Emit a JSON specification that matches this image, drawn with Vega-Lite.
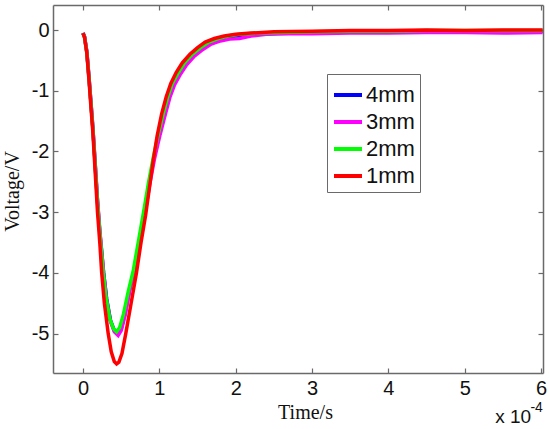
{
  "$schema": "https://vega.github.io/schema/vega-lite/v6.json",
  "width": 490,
  "height": 368,
  "autosize": {"type": "none"},
  "padding": {"left": 53, "top": 5, "right": 7, "bottom": 56},
  "background": "white",
  "config": {
    "view": {"stroke": null},
    "axis": {
      "domainColor": "#6a6a6a",
      "domainWidth": 1.5,
      "tickColor": "#6a6a6a",
      "tickWidth": 1.2,
      "tickSize": -5,
      "grid": false,
      "labelFont": "Liberation Sans",
      "labelFontSize": 20,
      "labelColor": "#111",
      "titleFont": "Liberation Serif",
      "titleFontSize": 20,
      "titleFontWeight": "normal",
      "titleColor": "#111"
    },
    "legend": {
      "orient": "none",
      "legendX": 274,
      "legendY": 69,
      "padding": 5,
      "strokeColor": "#6a6a6a",
      "fillColor": "white",
      "symbolType": "stroke",
      "symbolStrokeWidth": 4,
      "symbolSize": 784,
      "labelFont": "Liberation Sans",
      "labelFontSize": 22,
      "labelColor": "#111",
      "labelOffset": 2,
      "rowPadding": 0,
      "title": null
    }
  },
  "data": {
    "values": [
      {"series": "4mm", "t": 0, "v": -0.05},
      {"series": "4mm", "t": 0.02, "v": -0.11},
      {"series": "4mm", "t": 0.05, "v": -0.36},
      {"series": "4mm", "t": 0.08, "v": -0.81},
      {"series": "4mm", "t": 0.1, "v": -1.13},
      {"series": "4mm", "t": 0.13, "v": -1.63},
      {"series": "4mm", "t": 0.16, "v": -2.22},
      {"series": "4mm", "t": 0.19, "v": -2.82},
      {"series": "4mm", "t": 0.22, "v": -3.32},
      {"series": "4mm", "t": 0.27, "v": -4.0},
      {"series": "4mm", "t": 0.31, "v": -4.43},
      {"series": "4mm", "t": 0.36, "v": -4.78},
      {"series": "4mm", "t": 0.41, "v": -4.95},
      {"series": "4mm", "t": 0.46, "v": -5.0},
      {"series": "4mm", "t": 0.5, "v": -4.93},
      {"series": "4mm", "t": 0.55, "v": -4.68},
      {"series": "4mm", "t": 0.61, "v": -4.28},
      {"series": "4mm", "t": 0.675, "v": -3.92},
      {"series": "4mm", "t": 0.745, "v": -3.45},
      {"series": "4mm", "t": 0.81, "v": -2.95},
      {"series": "4mm", "t": 0.87, "v": -2.5},
      {"series": "4mm", "t": 0.93, "v": -2.1},
      {"series": "4mm", "t": 1.0, "v": -1.72},
      {"series": "4mm", "t": 1.07, "v": -1.38},
      {"series": "4mm", "t": 1.13, "v": -1.1},
      {"series": "4mm", "t": 1.19, "v": -0.9},
      {"series": "4mm", "t": 1.27, "v": -0.71},
      {"series": "4mm", "t": 1.35, "v": -0.56},
      {"series": "4mm", "t": 1.45, "v": -0.42},
      {"series": "4mm", "t": 1.56, "v": -0.31},
      {"series": "4mm", "t": 1.67, "v": -0.22},
      {"series": "4mm", "t": 1.8, "v": -0.16},
      {"series": "4mm", "t": 1.95, "v": -0.13},
      {"series": "4mm", "t": 2.1, "v": -0.1},
      {"series": "4mm", "t": 2.3, "v": -0.07},
      {"series": "4mm", "t": 2.6, "v": -0.05},
      {"series": "4mm", "t": 3.0, "v": -0.04},
      {"series": "4mm", "t": 3.5, "v": -0.03},
      {"series": "4mm", "t": 4.0, "v": -0.03},
      {"series": "4mm", "t": 4.5, "v": -0.03},
      {"series": "4mm", "t": 5.0, "v": -0.02},
      {"series": "4mm", "t": 5.5, "v": -0.03},
      {"series": "4mm", "t": 6.02, "v": -0.02},

      {"series": "3mm", "t": 0, "v": -0.05},
      {"series": "3mm", "t": 0.02, "v": -0.11},
      {"series": "3mm", "t": 0.05, "v": -0.35},
      {"series": "3mm", "t": 0.08, "v": -0.8},
      {"series": "3mm", "t": 0.1, "v": -1.12},
      {"series": "3mm", "t": 0.13, "v": -1.62},
      {"series": "3mm", "t": 0.16, "v": -2.2},
      {"series": "3mm", "t": 0.19, "v": -2.8},
      {"series": "3mm", "t": 0.22, "v": -3.3},
      {"series": "3mm", "t": 0.27, "v": -4.0},
      {"series": "3mm", "t": 0.31, "v": -4.45},
      {"series": "3mm", "t": 0.36, "v": -4.8},
      {"series": "3mm", "t": 0.41, "v": -4.97},
      {"series": "3mm", "t": 0.46, "v": -5.03},
      {"series": "3mm", "t": 0.5, "v": -4.95},
      {"series": "3mm", "t": 0.55, "v": -4.7},
      {"series": "3mm", "t": 0.61, "v": -4.3},
      {"series": "3mm", "t": 0.68, "v": -3.92},
      {"series": "3mm", "t": 0.75, "v": -3.45},
      {"series": "3mm", "t": 0.82, "v": -2.95},
      {"series": "3mm", "t": 0.88, "v": -2.5},
      {"series": "3mm", "t": 0.94, "v": -2.1},
      {"series": "3mm", "t": 1.01, "v": -1.72},
      {"series": "3mm", "t": 1.08, "v": -1.38},
      {"series": "3mm", "t": 1.14, "v": -1.1},
      {"series": "3mm", "t": 1.2, "v": -0.9},
      {"series": "3mm", "t": 1.28, "v": -0.72},
      {"series": "3mm", "t": 1.36, "v": -0.57},
      {"series": "3mm", "t": 1.46, "v": -0.43},
      {"series": "3mm", "t": 1.57, "v": -0.32},
      {"series": "3mm", "t": 1.68, "v": -0.23},
      {"series": "3mm", "t": 1.8, "v": -0.18},
      {"series": "3mm", "t": 1.92, "v": -0.15},
      {"series": "3mm", "t": 2.05, "v": -0.14},
      {"series": "3mm", "t": 2.2, "v": -0.1},
      {"series": "3mm", "t": 2.4, "v": -0.07},
      {"series": "3mm", "t": 2.7, "v": -0.06},
      {"series": "3mm", "t": 3.0, "v": -0.06},
      {"series": "3mm", "t": 3.5, "v": -0.05},
      {"series": "3mm", "t": 4.0, "v": -0.05},
      {"series": "3mm", "t": 4.5, "v": -0.04},
      {"series": "3mm", "t": 5.0, "v": -0.04},
      {"series": "3mm", "t": 5.5, "v": -0.05},
      {"series": "3mm", "t": 6.02, "v": -0.04},

      {"series": "2mm", "t": 0, "v": -0.05},
      {"series": "2mm", "t": 0.02, "v": -0.12},
      {"series": "2mm", "t": 0.05, "v": -0.37},
      {"series": "2mm", "t": 0.08, "v": -0.82},
      {"series": "2mm", "t": 0.1, "v": -1.15},
      {"series": "2mm", "t": 0.13, "v": -1.65},
      {"series": "2mm", "t": 0.16, "v": -2.25},
      {"series": "2mm", "t": 0.19, "v": -2.85},
      {"series": "2mm", "t": 0.22, "v": -3.35},
      {"series": "2mm", "t": 0.265, "v": -4.0},
      {"series": "2mm", "t": 0.3, "v": -4.4},
      {"series": "2mm", "t": 0.35, "v": -4.75},
      {"series": "2mm", "t": 0.4, "v": -4.92},
      {"series": "2mm", "t": 0.44, "v": -4.97},
      {"series": "2mm", "t": 0.48, "v": -4.9},
      {"series": "2mm", "t": 0.53, "v": -4.68},
      {"series": "2mm", "t": 0.59, "v": -4.32},
      {"series": "2mm", "t": 0.66, "v": -3.95},
      {"series": "2mm", "t": 0.73, "v": -3.45},
      {"series": "2mm", "t": 0.8, "v": -2.95},
      {"series": "2mm", "t": 0.86, "v": -2.5},
      {"series": "2mm", "t": 0.92, "v": -2.1},
      {"series": "2mm", "t": 0.985, "v": -1.72},
      {"series": "2mm", "t": 1.05, "v": -1.38},
      {"series": "2mm", "t": 1.11, "v": -1.1},
      {"series": "2mm", "t": 1.17, "v": -0.88},
      {"series": "2mm", "t": 1.25, "v": -0.7},
      {"series": "2mm", "t": 1.33, "v": -0.54},
      {"series": "2mm", "t": 1.43, "v": -0.4},
      {"series": "2mm", "t": 1.54, "v": -0.29},
      {"series": "2mm", "t": 1.65, "v": -0.2},
      {"series": "2mm", "t": 1.77, "v": -0.14},
      {"series": "2mm", "t": 1.9, "v": -0.1},
      {"series": "2mm", "t": 2.05, "v": -0.07},
      {"series": "2mm", "t": 2.3, "v": -0.05},
      {"series": "2mm", "t": 2.6, "v": -0.04},
      {"series": "2mm", "t": 3.0, "v": -0.03},
      {"series": "2mm", "t": 3.5, "v": -0.02},
      {"series": "2mm", "t": 4.0, "v": -0.02},
      {"series": "2mm", "t": 4.5, "v": -0.01},
      {"series": "2mm", "t": 5.0, "v": -0.01},
      {"series": "2mm", "t": 5.5, "v": -0.01},
      {"series": "2mm", "t": 6.02, "v": -0.01},

      {"series": "1mm", "t": 0, "v": -0.05},
      {"series": "1mm", "t": 0.02, "v": -0.12},
      {"series": "1mm", "t": 0.05, "v": -0.38},
      {"series": "1mm", "t": 0.08, "v": -0.85},
      {"series": "1mm", "t": 0.1, "v": -1.2},
      {"series": "1mm", "t": 0.13, "v": -1.7},
      {"series": "1mm", "t": 0.16, "v": -2.35},
      {"series": "1mm", "t": 0.19, "v": -3.0},
      {"series": "1mm", "t": 0.22, "v": -3.5},
      {"series": "1mm", "t": 0.245, "v": -4.0},
      {"series": "1mm", "t": 0.28, "v": -4.5},
      {"series": "1mm", "t": 0.33, "v": -5.0},
      {"series": "1mm", "t": 0.37, "v": -5.3},
      {"series": "1mm", "t": 0.41, "v": -5.46},
      {"series": "1mm", "t": 0.44, "v": -5.5},
      {"series": "1mm", "t": 0.47, "v": -5.47},
      {"series": "1mm", "t": 0.51, "v": -5.33},
      {"series": "1mm", "t": 0.56, "v": -5.0},
      {"series": "1mm", "t": 0.63, "v": -4.5},
      {"series": "1mm", "t": 0.7, "v": -4.0},
      {"series": "1mm", "t": 0.76, "v": -3.5},
      {"series": "1mm", "t": 0.82, "v": -3.05},
      {"series": "1mm", "t": 0.87, "v": -2.6},
      {"series": "1mm", "t": 0.92, "v": -2.15},
      {"series": "1mm", "t": 0.97, "v": -1.75},
      {"series": "1mm", "t": 1.03, "v": -1.38},
      {"series": "1mm", "t": 1.09, "v": -1.1},
      {"series": "1mm", "t": 1.15, "v": -0.88},
      {"series": "1mm", "t": 1.22, "v": -0.7},
      {"series": "1mm", "t": 1.3, "v": -0.54},
      {"series": "1mm", "t": 1.4, "v": -0.4},
      {"series": "1mm", "t": 1.5, "v": -0.29},
      {"series": "1mm", "t": 1.6, "v": -0.2},
      {"series": "1mm", "t": 1.72, "v": -0.14},
      {"series": "1mm", "t": 1.85, "v": -0.1},
      {"series": "1mm", "t": 2.0, "v": -0.07},
      {"series": "1mm", "t": 2.2, "v": -0.05},
      {"series": "1mm", "t": 2.5, "v": -0.03},
      {"series": "1mm", "t": 3.0, "v": -0.02},
      {"series": "1mm", "t": 3.5, "v": -0.01},
      {"series": "1mm", "t": 4.0, "v": -0.01},
      {"series": "1mm", "t": 4.5, "v": 0.0},
      {"series": "1mm", "t": 5.0, "v": -0.01},
      {"series": "1mm", "t": 5.5, "v": 0.0},
      {"series": "1mm", "t": 6.02, "v": 0.0}
    ]
  },
  "encoding": {
    "color": {
      "field": "series",
      "type": "nominal",
      "scale": {
        "domain": ["4mm", "3mm", "2mm", "1mm"],
        "range": ["#0000ff", "#ff00ff", "#00ff00", "#ff0000"]
      }
    }
  },
  "resolve": {"axis": {"x": "independent", "y": "independent"}},
  "layer": [
    {
      "transform": [{"filter": "datum.series === '4mm'"}],
      "mark": {"type": "line", "strokeWidth": 3.5},
      "encoding": {
        "x": {
          "field": "t", "type": "quantitative",
          "scale": {"domain": [-0.393, 6.025], "nice": false, "zero": false},
          "axis": {
            "orient": "bottom",
            "values": [0, 1, 2, 3, 4, 5, 6],
            "labelExpr": "toString(datum.value)",
            "labelPadding": 10,
            "title": "Time/s",
            "titleX": 252,
            "titleY": 45,
            "titleAlign": "center",
            "titleBaseline": "alphabetic"
          }
        },
        "y": {
          "field": "v", "type": "quantitative",
          "scale": {"domain": [-5.649, 0.412], "nice": false, "zero": false},
          "axis": {
            "orient": "left",
            "values": [-5, -4, -3, -2, -1, 0],
            "labelExpr": "toString(datum.value)",
            "labelPadding": 9,
            "title": "Voltage/V",
            "titleX": -35,
            "titleY": 186,
            "titleAngle": 270,
            "titleAlign": "center",
            "titleBaseline": "alphabetic"
          }
        }
      }
    },
    {
      "transform": [{"filter": "datum.series === '3mm'"}],
      "mark": {"type": "line", "strokeWidth": 3.5},
      "encoding": {
        "x": {"field": "t", "type": "quantitative", "scale": {"domain": [-0.393, 6.025], "nice": false, "zero": false}, "axis": null},
        "y": {"field": "v", "type": "quantitative", "scale": {"domain": [-5.649, 0.412], "nice": false, "zero": false}, "axis": null}
      }
    },
    {
      "transform": [{"filter": "datum.series === '2mm'"}],
      "mark": {"type": "line", "strokeWidth": 3.5},
      "encoding": {
        "x": {"field": "t", "type": "quantitative", "scale": {"domain": [-0.393, 6.025], "nice": false, "zero": false}, "axis": null},
        "y": {"field": "v", "type": "quantitative", "scale": {"domain": [-5.649, 0.412], "nice": false, "zero": false}, "axis": null}
      }
    },
    {
      "transform": [{"filter": "datum.series === '1mm'"}],
      "mark": {"type": "line", "strokeWidth": 3.5},
      "encoding": {
        "x": {
          "field": "t", "type": "quantitative",
          "scale": {"domain": [-0.393, 6.025], "nice": false, "zero": false},
          "axis": {"orient": "top", "values": [0, 1, 2, 3, 4, 5, 6], "labels": false, "title": null}
        },
        "y": {
          "field": "v", "type": "quantitative",
          "scale": {"domain": [-5.649, 0.412], "nice": false, "zero": false},
          "axis": {"orient": "right", "values": [-5, -4, -3, -2, -1, 0], "labels": false, "title": null}
        }
      }
    },
    {
      "data": {"values": [{"label": "x 10"}]},
      "mark": {"type": "text", "align": "right", "baseline": "alphabetic", "font": "Liberation Sans", "fontSize": 19},
      "encoding": {
        "x": {"datum": 5.87, "type": "quantitative", "axis": null},
        "y": {"datum": -6.48, "type": "quantitative", "axis": null},
        "text": {"field": "label"},
        "color": {"value": "#111"}
      }
    },
    {
      "data": {"values": [{"label": "-4"}]},
      "mark": {"type": "text", "align": "left", "baseline": "alphabetic", "font": "Liberation Sans", "fontSize": 14},
      "encoding": {
        "x": {"datum": 5.86, "type": "quantitative", "axis": null},
        "y": {"datum": -6.29, "type": "quantitative", "axis": null},
        "text": {"field": "label"},
        "color": {"value": "#111"}
      }
    }
  ]
}
